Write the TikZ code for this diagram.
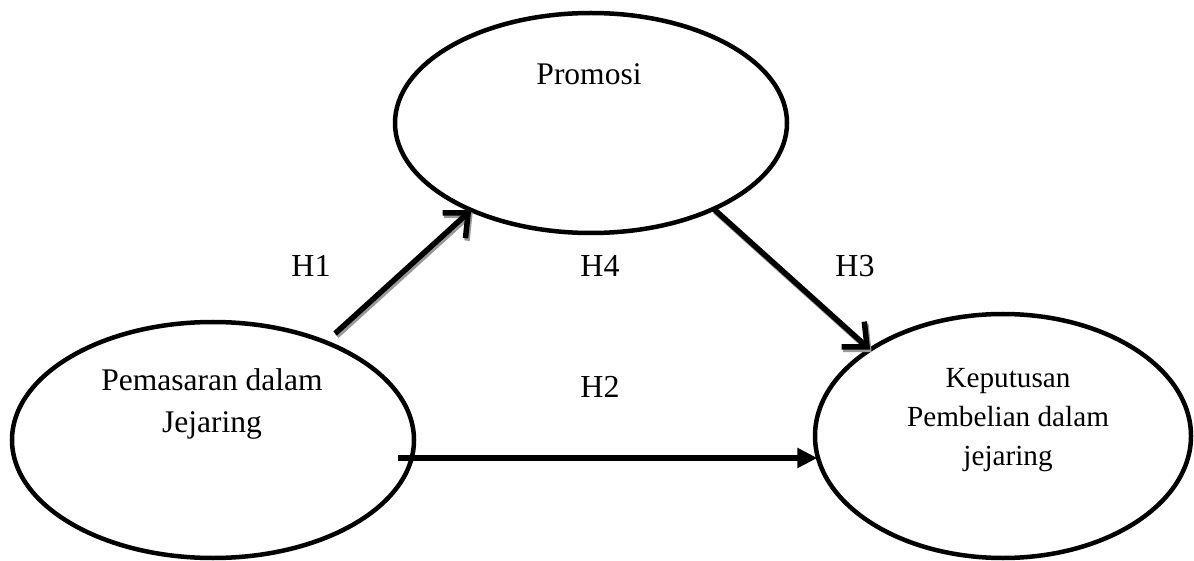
\documentclass[tikz,border=0pt]{standalone}
\usepackage{fontspec}
\setmainfont{Liberation Serif}
\usetikzlibrary{shapes.geometric,arrows.meta}
\begin{document}
\begin{tikzpicture}[x=1pt,y=-1pt,
  ell/.style={draw=black,line width=4.5pt,ellipse,inner sep=0pt,outer sep=0pt},
  lbl/.style={anchor=base,inner sep=0pt,font=\fontsize{31.5}{38}\selectfont},
  lblr/.style={anchor=base,inner sep=0pt,font=\fontsize{29.2}{36}\selectfont},
  hyp/.style={anchor=base,inner sep=0pt,font=\fontsize{32}{38}\selectfont},
  barb/.style={-{Straight Barb[length=19pt,width=34pt,line width=5.5pt]}},
  diag/.style={line width=5.5pt,barb,
    preaction={draw=black!40,line width=5.5pt,barb,
      transform canvas={shift={(1.5pt,-2.5pt)}}}},
  horiz/.style={line width=5.5pt,-{Triangle[length=20pt,width=19pt]}}
]
\useasboundingbox (0,0) rectangle (1194,561);
% ellipses
\node[ell,minimum width=402pt,minimum height=236pt] (pem) at (213,440) {};
\node[ell,minimum width=392pt,minimum height=220pt] (pro) at (591,123) {};
\node[ell,minimum width=376pt,minimum height=244pt] (kep) at (1003,436) {};
% texts
\node[lbl] (pro1) at (589,85) {Promosi};
\node[lbl] (pem1) at (212,390) {Pemasaran dalam};
\node[lbl] (pem2) at (212,432) {Jejaring};
\node[lblr] (kep1) at (1008,387) {Keputusan};
\node[lblr] (kep2) at (1008,426) {Pembelian dalam};
\node[lblr] (kep3) at (1008,465) {jejaring};
% hypothesis labels
\node[hyp] (h1) at (311,277) {H1};
\node[hyp] (h4) at (600,277) {H4};
\node[hyp] (h3) at (855,277) {H3};
\node[hyp] (h2) at (600,397) {H2};
% connectors
\draw[diag,shorten <=13pt] (pem.41) -- (pro.216);
\draw[diag] (pro.325) -- (kep.147);
\coordinate (h2s) at ([xshift=-16pt,yshift=-18pt]pem.east);
\draw[horiz] (h2s) -- (h2s -| kep.186.7);
\end{tikzpicture}
\end{document}
